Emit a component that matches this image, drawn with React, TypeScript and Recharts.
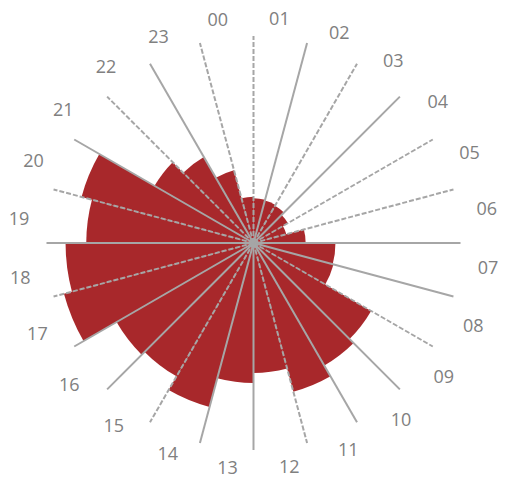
import { RadialBarChart, RadialBar, PolarAngleAxis, PolarRadiusAxis, PolarGrid } from "recharts";

// hour of day and the count for each one
const HOURS = [
  "00", "01", "02", "03", "04", "05", "06", "07", "08", "09", "10", "11",
  "12", "13", "14", "15", "16", "17", "18", "19", "20", "21", "22", "23",
];
const COUNTS = [56, 54, 53, 52, 48, 41, 63, 99, 100, 164, 171, 186, 157, 169, 205, 186, 191, 237, 227, 202, 215, 138, 120, 91];
const MAX_VALUE = 250;

// spokes, degrees clockwise from 12 o'clock
const SOLID_SPOKES = [15, 45, 90, 105, 135, 150, 180, 195, 225, 240, 270, 300, 330];
const DASHED_SPOKES = [0, 30, 60, 75, 120, 165, 210, 255, 285, 315, 345];

const W = 505;
const H = 477;
const CX = 253.5;
const CY = 243;
const OUTER = 207;
const LABEL_RX = 236;
const LABEL_RY = 226;
const LABEL_SHIFT = -1.2;
const HALF_BAND = 7.5;

const RED = "#A8282B";
const GREY = "#A6A6A6";

const data = HOURS.map((hour, i) => ({ hour, count: COUNTS[i] }));
const toPolar = (cw: number) => 90 - cw;

function HourTick({ payload }: any) {
  // tick coordinate sits on the band edge, move it to the middle of the sector
  const a = ((90 - payload.coordinate - HALF_BAND + LABEL_SHIFT) * Math.PI) / 180;
  const x = CX + LABEL_RX * Math.sin(a);
  const y = CY - LABEL_RY * Math.cos(a);
  return (
    <text x={x} y={y + 6.5} textAnchor="middle" fill="#808080" fontSize={18} fontFamily="'Open Sans', sans-serif">
      {payload.value}
    </text>
  );
}

export default function App() {
  return (
    <div style={{ position: "absolute", left: 0, top: 0, width: W, height: H, background: "#fff" }}>
      <RadialBarChart
        width={W}
        height={H}
        data={data}
        layout="centric"
        cx={CX}
        cy={CY}
        innerRadius={0}
        outerRadius={OUTER}
        startAngle={90}
        endAngle={-270}
        barCategoryGap={0}
        barGap={0}
        margin={{ top: 0, right: 0, bottom: 0, left: 0 }}
      >
        <PolarAngleAxis type="category" dataKey="hour" tick={<HourTick />} tickLine={false} axisLine={false} />
        <PolarRadiusAxis type="number" domain={[0, MAX_VALUE]} tick={false} axisLine={false} />
        <RadialBar dataKey="count" fill={RED} isAnimationActive={false} />
        <PolarGrid
          gridType="circle"
          polarRadius={[]}
          polarAngles={SOLID_SPOKES.map(toPolar)}
          stroke={GREY}
          strokeWidth={2}
          zIndex={800}
        />
        <PolarGrid
          gridType="circle"
          polarRadius={[]}
          polarAngles={DASHED_SPOKES.map(toPolar)}
          stroke={GREY}
          strokeWidth={2}
          strokeDasharray="5 2"
          zIndex={800}
        />
      </RadialBarChart>
    </div>
  );
}
